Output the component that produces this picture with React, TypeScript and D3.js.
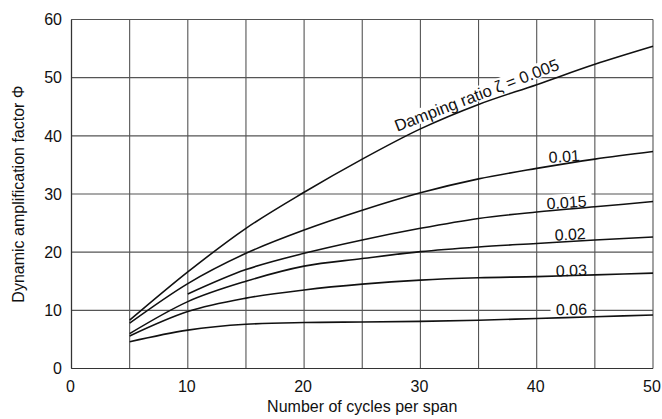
import React from "react";
import * as d3 from "d3";

const cycles = [5, 10, 15, 20, 25, 30, 35, 40, 45, 50];
const phi005 = [8.3, 16.6, 24.1, 30.3, 36.0, 41.2, 45.4, 48.8, 52.3, 55.4];
const phi01 = [7.8, 14.6, 19.8, 23.8, 27.2, 30.2, 32.6, 34.4, 36.0, 37.3];
const phi015 = [null, 12.8, 17.0, 19.8, 22.1, 24.1, 25.8, 26.9, 27.8, 28.7];
const phi02 = [6.0, 11.5, 15.0, 17.6, 18.9, 20.1, 20.9, 21.5, 22.1, 22.6];
const phi03 = [5.6, 9.8, 12.1, 13.5, 14.5, 15.2, 15.6, 15.8, 16.1, 16.4];
const phi06 = [4.6, 6.6, 7.6, 7.9, 8.0, 8.1, 8.3, 8.6, 8.9, 9.2];
const seriesLabels = ["Damping ratio ζ = 0.005", "0.01", "0.015", "0.02", "0.03", "0.06"];
const xTicks = [0, 10, 20, 30, 40, 50];
const yTicks = [0, 10, 20, 30, 40, 50, 60];
const xGrid = [0, 5, 10, 15, 20, 25, 30, 35, 40, 45, 50];
const xTitle = "Number of cycles per span";
const yTitle = "Dynamic amplification factor Φ";

const W = 662, H = 419;
const L = 71.5, R = 653, T = 19.5, B = 368.5;
const FONT = "'Liberation Sans', Arial, Helvetica, sans-serif";

export default function App() {
  const x = d3.scaleLinear().domain([0, 50]).range([L, R]);
  const y = d3.scaleLinear().domain([0, 60]).range([B, T]);
  const all = [phi005, phi01, phi015, phi02, phi03, phi06];
  const line = d3
    .line<[number, number | null]>()
    .defined((d) => d[1] != null)
    .x((d) => x(d[0]))
    .y((d) => y(d[1] as number))
    .curve(d3.curveMonotoneX);

  const labelPos: { cx: number; cy: number; rot: number; anchor: string }[] = [
    { cx: x(28.0), cy: y(40.7), rot: -21, anchor: "start" },
    { cx: x(42.4), cy: y(35.5), rot: -4, anchor: "middle" },
    { cx: x(42.6), cy: y(27.6), rot: -4, anchor: "middle" },
    { cx: x(42.9), cy: y(22.1), rot: -3, anchor: "middle" },
    { cx: x(43.0), cy: y(15.9), rot: -2, anchor: "middle" },
    { cx: x(43.0), cy: y(9.2), rot: -1, anchor: "middle" },
  ];

  return (
    <svg width={W} height={H} style={{ position: "absolute", left: 0, top: 0, background: "#fff" }} fontFamily={FONT}>
      {yTicks.map((t) => (
        <line key={"h" + t} x1={L} x2={R} y1={y(t)} y2={y(t)} stroke="#555" strokeWidth={1.1} />
      ))}
      {xGrid.map((t) => (
        <line key={"v" + t} x1={x(t)} x2={x(t)} y1={T} y2={B} stroke="#555" strokeWidth={1.1} />
      ))}
      {seriesLabels.map((s, i) => {
        const p = labelPos[i];
        const w = i === 0 ? 178 : s.length * 9 + 6;
        const x0 = p.anchor === "start" ? -3 : -w / 2;
        return (
          <g key={"lb" + i} transform={`translate(${p.cx},${p.cy}) rotate(${p.rot})`}>
            <rect x={x0} y={-14} width={w} height={i === 0 ? 15 : 17} fill="#fff" />
          </g>
        );
      })}
      {all.map((s, i) => (
        <path
          key={"c" + i}
          d={line(cycles.map((c, j) => [c, s[j]] as [number, number | null])) || ""}
          fill="none"
          stroke="#111"
          strokeWidth={1.6}
        />
      ))}
      {seriesLabels.map((s, i) => {
        const p = labelPos[i];
        return (
          <text
            key={"lt" + i}
            transform={`translate(${p.cx},${p.cy}) rotate(${p.rot})`}
            textAnchor={p.anchor}
            fontSize={i === 0 ? 16.5 : 16}
            fill="#111"
          >
            {s}
          </text>
        );
      })}
      <line x1={L} x2={R} y1={B} y2={B} stroke="#333" strokeWidth={1.2} />
      <line x1={L} x2={L} y1={T} y2={B} stroke="#333" strokeWidth={1.2} />
      {xTicks.map((t) => (
        <text key={"xt" + t} x={x(t) - 1} y={392} textAnchor="middle" fontSize={16} fill="#111">
          {t}
        </text>
      ))}
      {yTicks.map((t) => (
        <text key={"yt" + t} x={62} y={y(t)} dy="0.36em" textAnchor="end" fontSize={16} fill="#111">
          {t}
        </text>
      ))}
      <text x={(L + R) / 2} y={412} textAnchor="middle" fontSize={16} fill="#111">
        {xTitle}
      </text>
      <text
        transform={`translate(24,${(T + B) / 2}) rotate(-90)`}
        textAnchor="middle"
        fontSize={16}
        fill="#111"
      >
        {yTitle}
      </text>
    </svg>
  );
}
